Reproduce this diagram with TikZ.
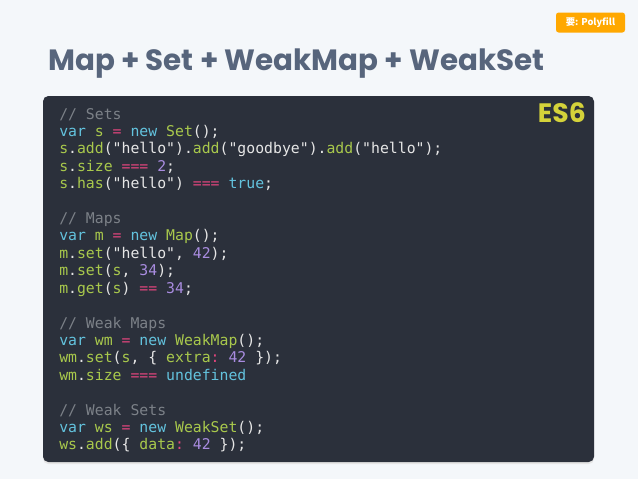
\documentclass[tikz,border=0pt]{standalone}
\usepackage{fontspec}
\setmonofont{DejaVu Sans Mono}
\newfontfamily\titlefont{Poppins}
\newfontfamily\cjk{Noto Sans CJK SC}
\usetikzlibrary{positioning}
\definecolor{pagebg}{HTML}{F4F7FA}
\definecolor{codebg}{HTML}{2B303B}
\definecolor{titlecol}{HTML}{57657C}
\definecolor{badgecol}{HTML}{FFA800}
\definecolor{escol}{HTML}{D4D23A}
\definecolor{cmtcol}{HTML}{7C8188}
\definecolor{kwcol}{HTML}{63C3DE}
\definecolor{fncol}{HTML}{A9C94C}
\definecolor{opcol}{HTML}{E1457D}
\definecolor{numcol}{HTML}{A98CE0}
\definecolor{plaincol}{HTML}{E6E6E6}
\newcommand\ccm[1]{\textcolor{cmtcol}{#1}}
\newcommand\ckw[1]{\textcolor{kwcol}{#1}}
\newcommand\cfn[1]{\textcolor{fncol}{#1}}
\newcommand\cop[1]{\textcolor{opcol}{#1}}
\newcommand\cnm[1]{\textcolor{numcol}{#1}}
\tikzset{
  codeline/.style={anchor=base west,inner sep=0pt,text=plaincol,
    font=\ttfamily\fontsize{11.1}{13}\selectfont},
  badge/.style={fill=badgecol,rounded corners=2pt,text=white,
    minimum width=51.75pt,minimum height=15pt,inner sep=0pt,
    font=\cjk\bfseries\fontsize{7}{8}\selectfont},
  heading/.style={anchor=base west,inner sep=0pt,text=titlecol,
    font=\titlefont\bfseries\fontsize{22}{26}\selectfont},
  eslabel/.style={anchor=base east,inner sep=0pt,text=escol,
    font=\titlefont\bfseries\fontsize{20}{24}\selectfont}
}
\begin{document}
\begin{tikzpicture}[x=0.75pt,y=-0.75pt]
  \fill[pagebg] (0,0) rectangle (638,479);
  \useasboundingbox (0,0) rectangle (638,479);
  % badge and title
  \node[badge] (tag) at (590.5,22.5) {要: Polyfill};
  \node[heading] (title) at (48,70) {Map + Set + WeakMap + WeakSet};
  % code panel
  \fill[black!10,rounded corners=4pt] (43,98) rectangle (594,464);
  \fill[codebg,rounded corners=4pt] (43,96) rectangle (594,462);
  \node[eslabel] (es) at (586,122) {ES6};
  \pgfmathsetmacro\lh{17.42}
  \node[codeline] (l1)  at (59,119)            {\ccm{// Sets}};
  \node[codeline] (l2)  at (59,{119+1*\lh})    {\ckw{var} \cfn{s} \cop{=} \ckw{new} \cfn{Set}();};
  \node[codeline] (l3)  at (59,{119+2*\lh})    {\cfn{s}.\cfn{add}("hello").\cfn{add}("goodbye").\cfn{add}("hello");};
  \node[codeline] (l4)  at (59,{119+3*\lh})    {\cfn{s}.\cfn{size} \cop{===} \cnm{2};};
  \node[codeline] (l5)  at (59,{119+4*\lh})    {\cfn{s}.\cfn{has}("hello") \cop{===} \ckw{true};};
  \node[codeline] (l7)  at (59,{119+6*\lh})    {\ccm{// Maps}};
  \node[codeline] (l8)  at (59,{119+7*\lh})    {\ckw{var} \cfn{m} \cop{=} \ckw{new} \cfn{Map}();};
  \node[codeline] (l9)  at (59,{119+8*\lh})    {\cfn{m}.\cfn{set}("hello", \cnm{42});};
  \node[codeline] (l10) at (59,{119+9*\lh})    {\cfn{m}.\cfn{set}(\cfn{s}, \cnm{34});};
  \node[codeline] (l11) at (59,{119+10*\lh})   {\cfn{m}.\cfn{get}(\cfn{s}) \cop{==} \cnm{34};};
  \node[codeline] (l13) at (59,{119+12*\lh})   {\ccm{// Weak Maps}};
  \node[codeline] (l14) at (59,{119+13*\lh})   {\ckw{var} \cfn{wm} \cop{=} \ckw{new} \cfn{WeakMap}();};
  \node[codeline] (l15) at (59,{119+14*\lh})   {\cfn{wm}.\cfn{set}(\cfn{s}, \{ \cfn{extra}\cop{:} \cnm{42} \});};
  \node[codeline] (l16) at (59,{119+15*\lh})   {\cfn{wm}.\cfn{size} \cop{===} \ckw{undefined}};
  \node[codeline] (l18) at (59,{119+17*\lh})   {\ccm{// Weak Sets}};
  \node[codeline] (l19) at (59,{119+18*\lh})   {\ckw{var} \cfn{ws} \cop{=} \ckw{new} \cfn{WeakSet}();};
  \node[codeline] (l20) at (59,{119+19*\lh})   {\cfn{ws}.\cfn{add}(\{ \cfn{data}\cop{:} \cnm{42} \});};
\end{tikzpicture}
\end{document}
